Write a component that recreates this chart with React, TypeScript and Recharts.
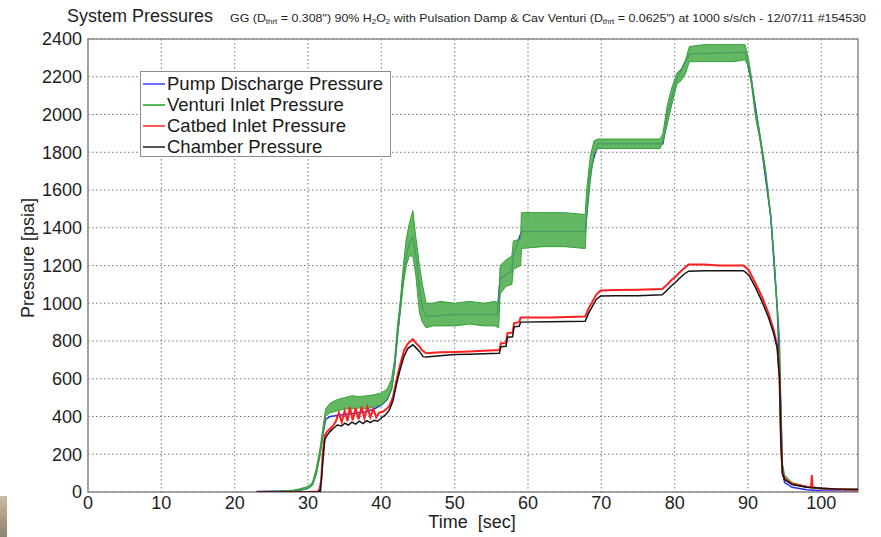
import React from "react";
import {
  ComposedChart,
  Line,
  Area,
  XAxis,
  YAxis,
  CartesianGrid,
  ReferenceArea,
} from "recharts";

// time [sec] and pressure [psia]
const venturiT = [
  23, 26, 28, 29, 30, 30.6, 31.1, 31.6, 32.0, 32.4, 33, 34, 35, 36, 37, 38, 39, 40, 40.8, 41.4,
  41.8, 42.2, 42.6, 43.0, 43.4, 43.8, 44.3, 44.7, 45.2, 45.6, 46.1, 47, 48, 50, 52, 54, 55.5, 56.0,
  56.2, 57.0, 57.8, 58.0, 59.0, 59.1, 62, 65, 67.8, 68.0, 68.5, 69.0, 69.5, 72, 75, 78, 78.4, 79.0,
  79.6, 80.3, 80.9, 81.5, 82.0, 84, 86, 88, 89.6, 90.1, 90.5, 91.0, 91.7, 92.4, 93.1, 93.6, 94.0,
  94.3, 94.5, 94.7, 95.0, 96, 98, 100, 105,
];
const venturiLo = [
  0, 2, 5, 10, 18, 35, 90, 180, 280, 400, 420, 430, 440, 440, 445, 440, 450, 460, 490, 540,
  650, 820, 960, 1100, 1200, 1250, 1250, 1150, 950, 900, 870, 880, 880, 880, 890, 880, 880, 870,
  1050, 1090, 1100, 1180, 1200, 1290, 1300, 1300, 1290, 1450, 1650, 1790, 1820, 1820, 1820, 1820, 1850, 1950,
  2050, 2160, 2180, 2220, 2280, 2280, 2280, 2280, 2290, 2250, 2150, 1990, 1850, 1680, 1450, 1200, 950,
  780, 400, 120, 70, 40, 25, 15, 8,
];
const venturiHi = [
  2, 5, 10, 18, 30, 50, 120, 220, 330, 440, 470, 490, 500, 510, 505, 510, 515, 525, 545, 600,
  700, 880, 1020, 1200, 1340, 1420, 1490, 1350, 1200, 1100, 1000, 1000, 1010, 1000, 1010, 1000, 1010, 1000,
  1200, 1230, 1250, 1330, 1340, 1480, 1480, 1480, 1470, 1600, 1780, 1860, 1870, 1870, 1870, 1870, 1900, 2050,
  2140, 2220, 2240, 2290, 2360, 2370, 2370, 2370, 2370, 2290, 2190, 2030, 1880, 1710, 1475, 1230, 980,
  820, 450, 150, 90, 50, 30, 20, 12,
];

const pumpT = [
  23, 26, 28, 29, 30, 30.6, 31.1, 31.6, 32.0, 32.4, 33, 34, 35, 36, 37, 38, 39, 40, 40.8, 41.4,
  41.8, 42.2, 42.6, 43, 43.4, 43.8, 44.3, 44.7, 45.2, 45.6, 46.1, 50, 55.8, 56.2, 57.8, 58, 59.1,
  67.8, 68.5, 69.5, 78.4, 79, 80.3, 82, 89.6, 90.5, 91.7, 93.1, 94.0, 94.5, 94.7, 95, 96, 98, 100, 105,
];
const pumpP = [
  3, 4, 6, 10, 20, 40, 95, 200, 300, 385, 400, 405, 410, 415, 420, 425, 440, 460, 490, 550,
  660, 830, 980, 1130, 1250, 1320, 1350, 1260, 1080, 980, 930, 940, 940, 1130, 1170, 1250, 1380,
  1380, 1700, 1845, 1845, 2000, 2190, 2320, 2330, 2170, 1865, 1460, 965, 420, 100, 50, 25, 12, 6, 3,
];

const catbedT = [
  23, 30, 31.5, 31.8, 32.0, 32.3, 32.6, 33.0, 33.4, 33.8, 34.2, 34.6, 35.0, 35.4, 35.7, 36.1, 36.5,
  36.9, 37.3, 37.7, 38.1, 38.5, 38.9, 39.3, 39.7, 40.2, 40.7, 41.1, 41.6, 42.0, 42.5, 43.1, 43.6,
  44.3, 44.7, 45.2, 45.6, 46.1, 48, 50, 52, 54, 56.1, 56.3, 57.0, 57.2, 57.9, 58.1, 58.8, 59.0, 63,
  67.8, 68.3, 68.8, 69.3, 69.9, 72, 75, 78.3, 79.0, 79.5, 80.1, 80.6, 81.3, 81.9, 84, 86, 88, 89.4,
  90.1, 91.0, 91.9, 92.8, 93.5, 94.0, 94.3, 94.5, 94.7, 95, 96, 97, 98, 98.6, 98.7, 98.8, 100, 102, 105,
];
const catbedP = [
  0, 0, 3, 60, 200, 300, 320, 335, 350, 375, 420, 370, 430, 375, 450, 380, 445,
  385, 450, 390, 450, 395, 440, 395, 420, 425, 440, 455, 505, 580, 665, 750, 785,
  810, 790, 770, 750, 735, 740, 742, 745, 748, 752, 788, 790, 842, 845, 895, 900, 925, 925,
  930, 975, 1010, 1045, 1068, 1070, 1072, 1075, 1100, 1120, 1140, 1160, 1185, 1205, 1205, 1200, 1200, 1200,
  1176, 1107, 1035, 947, 858, 770, 600, 250, 100, 70, 45, 35, 28, 25, 90, 25, 18, 15, 12,
];

const chamberT = [
  23, 31.3, 31.5, 31.7, 32.0, 32.3, 32.6, 33, 33.4, 34, 34.6, 35, 35.5, 36, 36.5, 37, 37.5, 38, 38.5,
  39, 39.5, 40, 40.6, 41.1, 41.6, 42.0, 42.5, 43.1, 43.6, 44.3, 44.7, 45.2, 45.7, 46.1, 48, 50, 52,
  54, 56.1, 56.3, 57.0, 57.2, 57.9, 58.1, 58.8, 59.0, 63, 67.8, 68.3, 68.8, 69.3, 69.9, 72, 75, 78.3,
  79, 79.5, 80.1, 80.6, 81.3, 81.9, 84, 86, 88, 89.4, 90.1, 91, 91.9, 92.8, 93.5, 94.0, 94.3, 94.5,
  94.7, 95, 96, 98, 100, 102, 105,
];
const chamberP = [
  0, 0, 8, 3, 150, 280, 300, 320, 335, 355, 350, 365, 355, 370, 360, 375, 362, 378, 368,
  380, 375, 392, 410, 435, 485, 560, 640, 720, 760, 780, 765, 745, 717, 715, 722, 728, 730,
  732, 735, 770, 772, 820, 822, 875, 878, 900, 902, 905, 950, 985, 1020, 1038, 1040, 1040, 1045,
  1070, 1090, 1110, 1130, 1155, 1170, 1172, 1172, 1172, 1172, 1150, 1085, 1010, 925, 840, 760, 600, 250,
  100, 65, 40, 25, 20, 16, 14,
];

const xTicks = [0, 10, 20, 30, 40, 50, 60, 70, 80, 90, 100];
const yTicks = [0, 200, 400, 600, 800, 1000, 1200, 1400, 1600, 1800, 2000, 2200, 2400];

const seriesNames = [
  "Pump Discharge Pressure",
  "Venturi Inlet Pressure",
  "Catbed Inlet Pressure",
  "Chamber Pressure",
];
const seriesColors = ["#2a2aff", "#2f9a2f", "#ff1f1f", "#151515"];
const legendColors = ["#7070ff", "#5ab85a", "#ff5a5a", "#555555"];

const toRows = (t: number[], p: number[]) => t.map((x, i) => ({ t: x, v: p[i] }));
const venturiRows = venturiT.map((x, i) => ({ t: x, band: [venturiLo[i], venturiHi[i]] }));

const FONT = "'Liberation Sans', Arial, Helvetica, sans-serif";

function LegendBox() {
  return (
    <div
      style={{
        position: "absolute",
        left: 140,
        top: 71,
        border: "1.5px solid #8c8c8c",
        background: "#fff",
        width: 251,
        height: 86,
        boxSizing: "border-box",
        padding: "1px 0 0 2px",
        fontFamily: FONT,
        fontSize: 18.5,
        color: "#1a1a1a",
      }}
    >
      {seriesNames.map((n, i) => (
        <div key={n} style={{ display: "flex", alignItems: "center", height: 21 }}>
          <div style={{ width: 22, height: 2, background: legendColors[i], marginRight: 2, flexShrink: 0 }} />
          <span>{n}</span>
        </div>
      ))}
    </div>
  );
}

export default function App() {
  return (
    <div style={{ position: "absolute", left: 0, top: 0, width: 881, height: 537, background: "#fff" }}>
      <ComposedChart
        width={881}
        height={537}
        margin={{ top: 39, right: 23, bottom: 0, left: 0 }}
      >
        <CartesianGrid stroke="#777" strokeDasharray="1.5 2.5" horizontalValues={yTicks} verticalValues={xTicks} />
        <XAxis
          type="number"
          dataKey="t"
          domain={[0, 105]}
          ticks={xTicks}
          allowDataOverflow
          height={45}
          tickSize={0}
          tickMargin={4}
          axisLine={false}
          tick={{ fontSize: 18, fill: "#1e1e1e", fontFamily: FONT }}
        />
        <YAxis
          type="number"
          domain={[0, 2400]}
          ticks={yTicks}
          allowDataOverflow
          width={88}
          tickSize={0}
          tickMargin={6}
          axisLine={false}
          tick={{ fontSize: 18, fill: "#1e1e1e", fontFamily: FONT }}
        />
        <Area
          data={toRows(pumpT, pumpP)}
          dataKey="v"
          stroke={seriesColors[0]}
          strokeWidth={1.5}
          fill="none"
          dot={false}
          isAnimationActive={false}
        />
        <Area
          data={venturiRows}
          dataKey="band"
          stroke="#36a036"
          strokeWidth={1}
          fill="#4fae4f"
          fillOpacity={0.88}
          dot={false}
          isAnimationActive={false}
        />
        <Line
          data={toRows(catbedT, catbedP)}
          dataKey="v"
          stroke={seriesColors[2]}
          strokeWidth={2}
          dot={false}
          isAnimationActive={false}
        />
        <Line
          data={toRows(chamberT, chamberP)}
          dataKey="v"
          stroke={seriesColors[3]}
          strokeWidth={1.5}
          dot={false}
          isAnimationActive={false}
        />
        <ReferenceArea x1={0} x2={105} y1={0} y2={2400} fill="none" stroke="#8a8a8a" strokeWidth={1.5} ifOverflow="visible" />
      </ComposedChart>
      <LegendBox />
      <svg
        width={881}
        height={537}
        style={{ position: "absolute", left: 0, top: 0, pointerEvents: "none" }}
        fontFamily={FONT}
        fill="#1e1e1e"
      >
        <text x={67} y={22} fontSize={18}>System Pressures</text>
        <text x={230} y={22} fontSize={11} textLength={636} lengthAdjust="spacingAndGlyphs">
          GG (D<tspan fontSize={7} dy={2}>thrt</tspan>
          <tspan dy={-2}> = 0.308") 90% H</tspan>
          <tspan fontSize={7} dy={2}>2</tspan>
          <tspan dy={-2}>O</tspan>
          <tspan fontSize={7} dy={2}>2</tspan>
          <tspan dy={-2}> with Pulsation Damp &amp; Cav Venturi (D</tspan>
          <tspan fontSize={7} dy={2}>thrt</tspan>
          <tspan dy={-2}> = 0.0625") at 1000 s/s/ch - 12/07/11  #154530</tspan>
        </text>
        <text x={472} y={528} fontSize={18} textAnchor="middle" xmlSpace="preserve">Time  [sec]</text>
        <text x={34} y={258} fontSize={18} textAnchor="middle" transform="rotate(-90 34 258)">
          Pressure [psia]
        </text>
      </svg>
      <div
        style={{
          position: "absolute",
          left: 0,
          top: 496,
          width: 7,
          height: 41,
          background: "linear-gradient(180deg, #c9bca6 0%, #a8987f 60%, #8f8474 100%)",
        }}
      />
    </div>
  );
}
